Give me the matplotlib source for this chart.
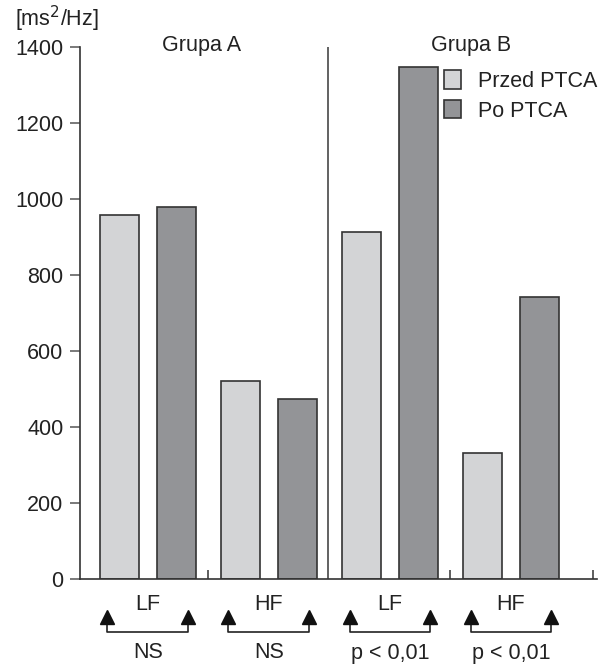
import matplotlib.pyplot as plt
from matplotlib.transforms import blended_transform_factory

plt.rcParams['font.family'] = ['Liberation Sans', 'DejaVu Sans']

# data
bands = ['LF', 'HF', 'LF', 'HF']
przed = [959, 520, 914, 331]
po = [980, 473, 1347, 742]
pvals = ['NS', 'NS', 'p < 0,01', 'p < 0,01']
groups = ['Grupa A', 'Grupa B']
yticks = [0, 200, 400, 600, 800, 1000, 1200, 1400]

c_light = '#d3d4d6'
c_dark = '#939497'
c_edge = '#333333'
fs = 15.5

fig = plt.figure(figsize=(6.1, 6.64), dpi=100)
ax = fig.add_axes([80/610, 1-579/664, (597-80)/610, (579-47)/664])

x = list(range(len(bands)))
off = 0.236
w = 0.32
ax.bar([i - off for i in x], przed, width=w, color=c_light, edgecolor=c_edge,
       linewidth=1.2, label='Przed PTCA')
ax.bar([i + off for i in x], po, width=w, color=c_dark, edgecolor=c_edge,
       linewidth=1.2, label='Po PTCA')

ax.set_xlim(-0.56, 3.71)
ax.set_ylim(0, 1400)
ax.axvline(1.49, color='#555555', lw=1.3)

for s in ['top', 'right']:
    ax.spines[s].set_visible(False)
for s in ['left', 'bottom']:
    ax.spines[s].set_color(c_edge)
    ax.spines[s].set_linewidth(1.2)

ax.set_yticks(yticks)
ax.tick_params(axis='y', direction='out', length=7, width=1.1, color='#555555',
               labelsize=fs, pad=5, labelcolor='#222222')
ax.set_xticks([0.5, 2.5, 3.68])
ax.set_xticklabels([])
ax.tick_params(axis='x', direction='in', length=6.5, width=1.1, color=c_edge)

fig.text(15/610, 1-19/664, '[ms$^2$/Hz]', fontsize=fs, va='center', ha='left',
         color='#222222')
fig.text(202/610, 1-45/664, groups[0], fontsize=fs, ha='center', va='center',
         color='#222222')
fig.text(471/610, 1-45/664, groups[1], fontsize=fs, ha='center', va='center',
         color='#222222')

ax.legend(loc='upper left', bbox_to_anchor=(0.683, 0.977), frameon=False,
          fontsize=fs, handlelength=0.8, handleheight=0.95, handletextpad=0.8,
          labelspacing=0.38, borderaxespad=0.1, labelcolor='#222222')

# labels and brackets under the axis
tr = blended_transform_factory(ax.transData, fig.transFigure)
aoff = 0.334
for i in x:
    ax.text(i, 1-604/664, bands[i], transform=tr, fontsize=fs, ha='center',
            va='center', color='#222222')
    l, r = i - aoff, i + aoff
    ax.plot([l, l, r, r], [1-622/664, 1-632/664, 1-632/664, 1-622/664],
            transform=tr, color='#222222', lw=1.2, clip_on=False)
    ax.plot([l, r], [1-617/664, 1-617/664], transform=tr, ls='none',
            marker='^', ms=10, color='#111111', clip_on=False)
    ax.text(i, 1-653/664, pvals[i], transform=tr, fontsize=fs, ha='center',
            va='center', color='#222222')

fig.savefig('out.png', dpi=100)
